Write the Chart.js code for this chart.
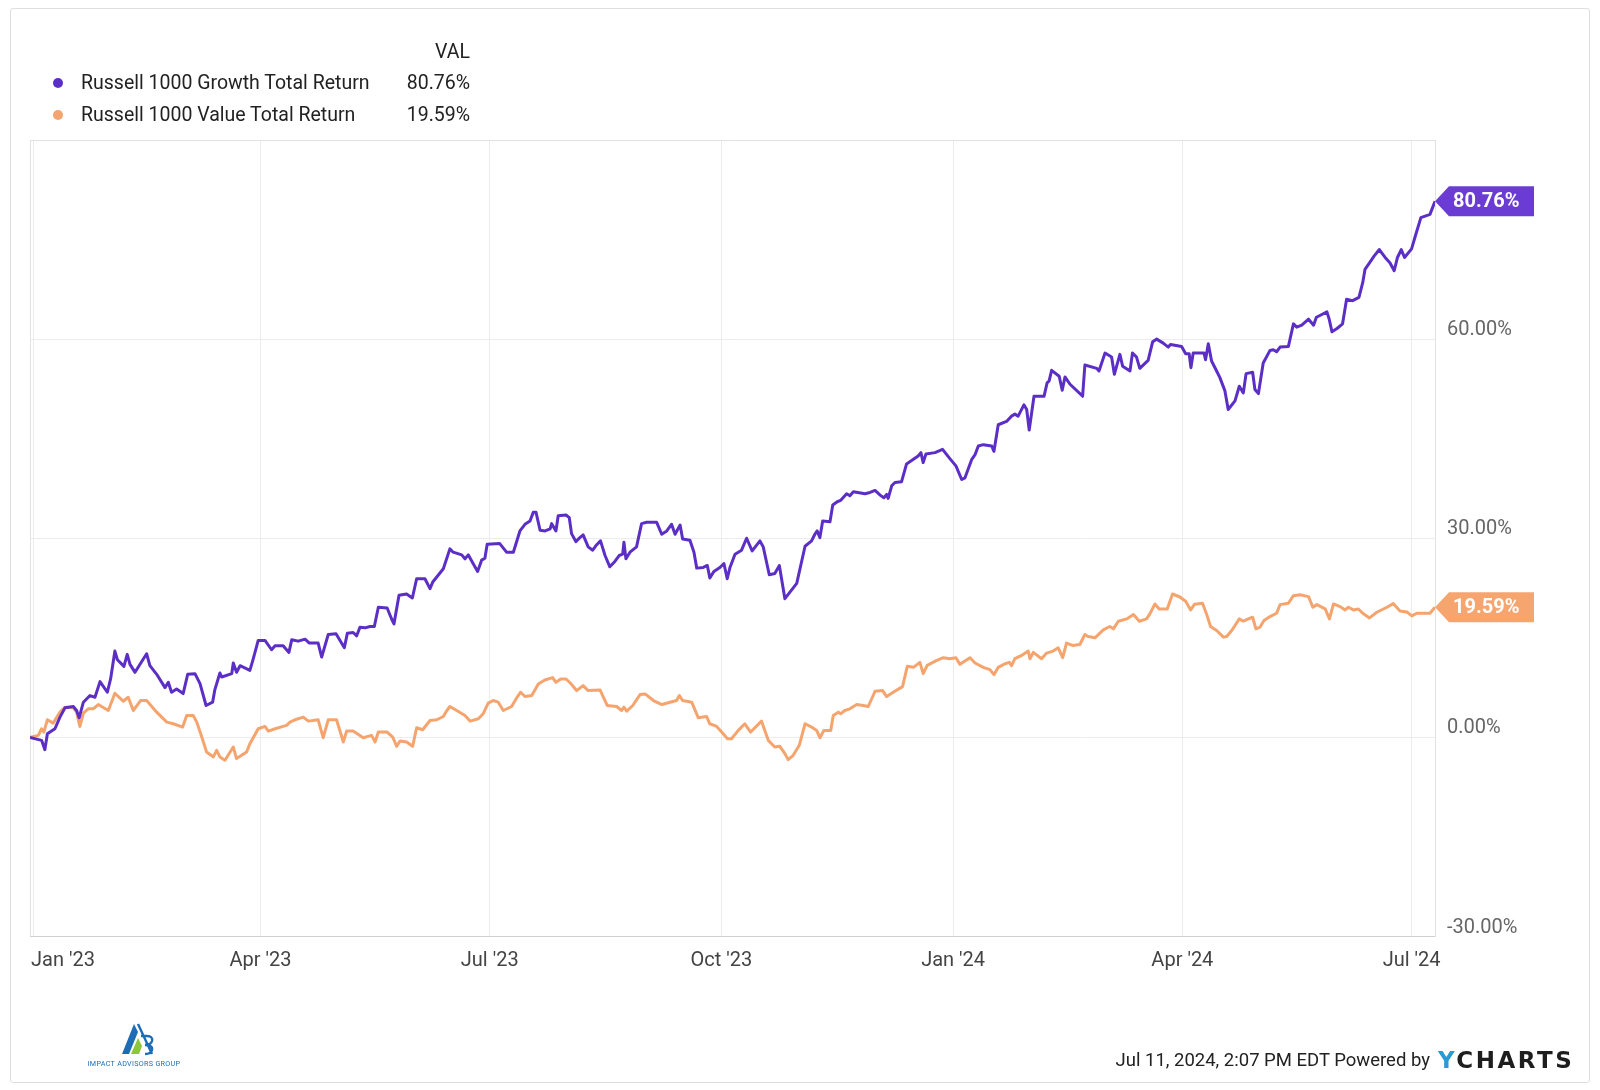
<!DOCTYPE html>
<html>
<head>
<meta charset="utf-8">
<title>Russell 1000 Growth vs Value Total Return</title>
<script src="https://cdn.jsdelivr.net/npm/chart.js@4.4.1/dist/chart.umd.min.js"></script>
<style>
  html, body { margin: 0; padding: 0; background: #fff; }
  body { width: 1600px; height: 1090px; position: relative; overflow: hidden;
         font-family: Roboto, "Noto Sans", sans-serif; color: #222; }
  #frame { position: absolute; left: 10px; top: 8px; width: 1580px; height: 1075px;
           border: 1px solid #dedede; border-radius: 3px; box-sizing: border-box; }
  #chart { position: absolute; left: 0; top: 0; }
  .txt { position: absolute; font-size: 19.5px; line-height: 24px; white-space: nowrap; color: #222; }
  .dot { position: absolute; width: 10px; height: 10px; border-radius: 50%; }
  .num { text-align: right; width: 120px; }
  #stamp { position: absolute; right: 170px; top: 1048px; font-size: 18.5px; line-height: 24px;
           white-space: nowrap; color: #222; }
  #ych { position: absolute; left: 1438px; top: 1047px; font-family: "DejaVu Sans", sans-serif;
         font-weight: bold; font-size: 23px; letter-spacing: 2.5px; line-height: 26px; color: #1e1e1e; }
  #ych span { color: #2a9ad6; }
  #logo { position: absolute; left: 84px; top: 1012px; }
</style>
</head>
<body>
<div id="frame"></div>
<canvas id="chart" width="1600" height="1090"></canvas>

<!-- legend -->
<div class="txt num" style="left:350px; top:40px;">VAL</div>
<div class="dot" style="left:53px; top:78px; background:#5b2fc6;"></div>
<div class="txt" style="left:81px; top:71px;">Russell 1000 Growth Total Return</div>
<div class="txt num" style="left:350px; top:71px;" id="growthVal"></div>
<div class="dot" style="left:53px; top:110px; background:#f5a46e;"></div>
<div class="txt" style="left:81px; top:103px;">Russell 1000 Value Total Return</div>
<div class="txt num" style="left:350px; top:103px;" id="valueVal"></div>

<!-- footer -->
<div id="stamp">Jul 11, 2024, 2:07 PM EDT Powered by</div>
<div id="ych"><span>Y</span>CHARTS</div>
<svg id="logo" width="104" height="60" viewBox="0 0 104 60">
  <polygon points="38,42 50,12 54,20 45,42" fill="#1c6db5"/>
  <polygon points="47,42 54,26 58,34 55,42" fill="#8cc63f"/>
  <path d="M54,12 L68,42 M57,24 L63,24 Q69,24 68,29 Q67,33 61,33 M61,33 Q69,33 68,38 Q67,42 61,42" stroke="#1c6db5" stroke-width="2.4" fill="none"/>
  <text x="50" y="54" font-size="7.2" font-family="Roboto, sans-serif" fill="#1c6db5" text-anchor="middle" letter-spacing="0.3">IMPACT ADVISORS GROUP</text>
</svg>

<script>
// x values are days since Jan 1, 2023; y values are total return in %
const growthDays = [-1.5, 3.1, 4.4, 5.4, 8.4, 10.4, 12.4, 15.7, 17.0, 18.0, 19.7, 22.3, 24.3, 26.3, 29.2, 30.5,
  32.2, 33.2, 35.8, 37.1, 38.2, 40.2, 44.8, 46.1, 48.8, 52.1, 53.4, 54.7, 56.7, 59.3, 61.1, 64.0, 66.0, 68.4,
  71.0, 71.9, 73.9, 74.6, 78.6, 79.2, 80.5, 81.9, 85.8, 87.1, 89.1, 91.8, 94.4, 95.8, 99.0, 101.3, 102.4,
  105.0, 107.7, 109.4, 112.9, 114.3, 116.9, 120.0, 123.3, 124.5, 126.8, 128.2, 129.5, 131.5, 133.5, 135.2,
  136.8, 140.3, 142.1, 143.0, 145.0, 148.0, 150.3, 152.0, 155.3, 157.3, 158.4, 162.6, 165.2, 166.5, 169.9,
  171.2, 172.5, 173.8, 176.2, 177.8, 179.1, 180.0, 185.0, 187.7, 190.4, 193.0, 195.0, 197.0, 198.3, 199.4,
  201.0, 203.0, 205.0, 205.6, 207.3, 208.2, 211.3, 212.6, 213.5, 215.2, 216.8, 218.1, 220.1, 221.9, 223.2,
  225.0, 226.8, 228.7, 230.7, 232.4, 233.8, 234.3, 235.1, 236.7, 239.3, 241.3, 243.3, 247.3, 249.3, 251.3,
  253.2, 254.6, 256.6, 257.6, 260.5, 262.1, 263.2, 265.8, 267.4, 268.4, 270.0, 272.4, 274.0, 275.3, 276.4,
  278.4, 281.0, 283.0, 285.2, 288.3, 289.6, 292.0, 294.2, 296.0, 298.2, 302.9, 306.2, 308.8, 310.1, 311.0,
  312.1, 313.2, 316.1, 317.2, 319.0, 320.3, 322.7, 324.0, 325.4, 330.0, 332.0, 334.0, 336.0, 337.5, 338.6,
  339.2, 340.6, 341.9, 344.5, 346.5, 348.5, 351.1, 352.2, 353.1, 354.2, 357.8, 360.8, 363.7, 366.1, 368.4,
  369.7, 372.4, 373.7, 375.0, 377.0, 380.3, 381.2, 382.9, 386.2, 388.2, 389.5, 390.8, 393.1, 394.2, 395.2,
  397.1, 401.1, 402.3, 403.1, 404.1, 407.1, 408.3, 409.4, 411.4, 416.4, 417.3, 422.0, 422.9, 425.3, 427.9,
  429.0, 431.2, 432.3, 435.2, 436.2, 437.8, 439.1, 442.4, 444.2, 445.8, 448.4, 450.4, 451.3, 455.7, 457.3,
  458.7, 459.4, 460.3, 464.6, 465.2, 466.3, 467.6, 469.6, 470.9, 472.9, 474.2, 476.9, 478.6, 480.2, 481.3,
  483.9, 484.8, 486.2, 488.1, 490.8, 492.1, 493.4, 494.8, 498.1, 500.1, 501.4, 503.4, 506.1, 508.1, 509.2,
  510.8, 513.4, 514.3, 515.4, 517.4, 519.6, 521.2, 523.6, 526.1, 527.6, 528.5, 530.5, 532.1, 534.2, 536.5,
  538.4, 540.1, 541.4, 542.9, 544.2, 547.0, 548.7, 550.7, 554.3, 556.3];
const growthReturns = [0, -0.45, -1.85, 0.55, 1.3, 3.05, 4.45, 4.65, 4.05, 2.95, 5.3, 6.3, 6.05, 8.4, 6.8, 8.8,
  13.0, 11.7, 10.7, 12.5, 11.0, 9.8, 12.6, 10.8, 9.5, 7.5, 8.3, 6.8, 7.3, 6.6, 9.5, 9.6, 8.1, 4.8,
  5.3, 7.2, 9.7, 9.1, 9.6, 11.2, 9.8, 10.8, 10.1, 11.8, 14.6, 14.6, 13.2, 13.8, 13.8, 12.8, 14.7,
  14.5, 14.8, 14.2, 14.2, 12.1, 15.5, 15.6, 13.5, 15.7, 15.8, 15.3, 16.6, 16.5, 16.7, 16.7,
  19.6, 19.5, 17.8, 17.1, 21.4, 21.6, 21.0, 23.9, 23.9, 22.4, 23.4, 25.4, 28.4, 27.9, 27.5,
  26.9, 27.5, 26.6, 25.0, 26.7, 27.0, 29.1, 29.2, 27.9, 27.9, 31.1, 32.1, 32.6, 33.9, 33.9,
  31.2, 31.1, 31.4, 32.2, 31.1, 33.4, 33.5, 33.1, 30.7, 29.5, 30.1, 30.5, 28.7, 28.2, 28.9,
  29.6, 27.4, 25.7, 26.5, 27.4, 27.6, 29.4, 26.9, 27.9, 28.7, 32.2, 32.4, 32.4, 30.6, 31.1,
  32.1, 30.6, 32.0, 29.9, 29.7, 27.9, 25.5, 25.6, 25.9, 24.0, 25.0, 25.6, 26.2, 23.9, 25.6,
  27.6, 28.2, 30.0, 28.1, 29.6, 28.7, 24.5, 24.7, 25.9, 20.9, 23.2, 28.8, 29.6, 30.6, 31.1,
  30.1, 32.6, 32.5, 35.0, 35.5, 35.7, 36.7, 36.4, 37.0, 36.7, 36.9, 37.2, 36.5, 36.1, 36.6,
  36.0, 37.9, 38.4, 38.5, 41.2, 41.7, 42.4, 42.9, 41.4, 42.7, 42.9, 43.4, 42.0, 40.9, 38.85,
  39.1, 41.9, 42.6, 43.9, 44.1, 43.9, 43.1, 47.1, 47.6, 48.4, 48.7, 48.4, 50.1, 49.4, 46.3,
  51.4, 51.4, 53.4, 53.7, 55.3, 54.4, 52.3, 54.3, 53.2, 51.4, 56.1, 55.6, 55.2, 57.9, 57.3,
  54.7, 57.7, 55.9, 55.2, 57.9, 57.3, 55.6, 56.8, 59.6, 60.0, 59.4, 58.8, 59.2, 58.9, 57.8,
  57.8, 55.7, 57.9, 57.9, 56.9, 59.3, 56.7, 55.2, 54.2, 52.2, 49.4, 50.7, 52.9, 51.9, 54.8,
  55.0, 52.4, 51.8, 56.4, 58.3, 58.4, 58.1, 58.8, 58.9, 62.3, 61.8, 62.1, 63.0, 62.1, 63.3,
  63.6, 64.1, 63.0, 61.1, 61.6, 62.3, 66.0, 65.8, 66.3, 68.5, 70.5, 71.6, 72.5, 73.5, 72.3,
  71.5, 70.3, 72.3, 73.5, 72.3, 73.6, 75.8, 78.3, 78.8, 80.76];

const valueDays = [-1.5, 1.8, 3.1, 4.0, 5.4, 7.7, 10.4, 12.4, 15.7, 17.0, 18.3, 19.7, 21.6, 23.6, 25.6, 29.6,
  32.2, 35.5, 37.5, 39.5, 42.4, 44.8, 48.8, 52.8, 55.4, 59.1, 60.7, 63.3, 64.7, 66.7, 68.6, 71.3, 72.6,
  73.9, 75.9, 79.2, 80.5, 84.5, 85.8, 89.1, 91.8, 93.1, 95.8, 99.0, 100.4, 101.7, 103.7, 107.0, 109.0,
  112.9, 114.9, 116.9, 120.2, 122.9, 124.2, 126.8, 130.8, 134.1, 135.5, 136.8, 140.3, 142.5, 144.1, 145.4,
  148.0, 150.4, 152.0, 154.4, 157.3, 160.0, 162.6, 164.0, 165.2, 167.9, 171.2, 173.2, 176.5, 178.4, 180.4,
  182.4, 184.4, 186.4, 189.7, 191.7, 193.3, 195.0, 197.7, 200.3, 202.9, 206.0, 207.3, 209.2, 211.3, 213.1,
  215.5, 218.1, 220.1, 224.8, 227.7, 231.4, 233.4, 234.3, 235.4, 237.8, 240.7, 242.7, 246.0, 249.4, 252.6,
  255.2, 256.3, 257.6, 261.2, 262.5, 263.8, 267.1, 268.4, 271.1, 273.1, 275.4, 277.0, 279.7, 282.3, 284.6,
  288.9, 291.6, 294.2, 296.2, 298.2, 299.5, 301.5, 303.9, 306.2, 308.8, 310.8, 312.1, 313.7, 316.4, 317.4,
  319.4, 320.3, 322.0, 324.0, 326.7, 329.3, 331.3, 334.0, 337.0, 338.6, 341.2, 344.9, 346.8, 349.2, 351.8,
  353.1, 354.7, 358.5, 361.1, 363.7, 366.1, 367.7, 371.7, 373.7, 377.0, 379.6, 381.2, 382.9, 385.6, 387.3,
  388.2, 389.5, 392.2, 394.8, 395.5, 396.8, 400.1, 402.1, 404.7, 406.7, 408.5, 410.0, 412.4, 415.3, 417.3,
  418.6, 421.3, 424.6, 427.2, 428.6, 430.6, 433.9, 436.6, 438.9, 441.8, 443.1, 445.1, 446.8, 450.0, 452.1,
  455.0, 457.3, 459.3, 460.8, 464.0, 465.6, 467.2, 469.6, 472.3, 473.6, 475.6, 478.6, 480.2, 482.2, 483.9,
  485.2, 486.8, 488.4, 490.8, 493.4, 494.8, 498.1, 500.1, 502.7, 506.1, 507.8, 509.4, 512.7, 514.4, 516.0,
  518.6, 520.6, 521.9, 523.9, 525.9, 527.6, 530.3, 533.2, 537.2, 539.8, 542.4, 545.1, 547.1, 549.1, 554.3,
  556.3];
const valueReturns = [0, 0.3, 1.3, 0.8, 2.65, 2.15, 3.8, 4.55, 4.45, 3.8, 1.65, 3.65, 4.3, 4.3, 4.95, 4.05,
  6.65, 5.45, 6.05, 4.05, 5.55, 5.55, 3.8, 2.3, 2.05, 1.55, 3.3, 3.3, 2.3, 0.05, -2.2, -2.95, -1.95,
  -2.95, -3.45, -1.45, -3.2, -2.2, -0.95, 1.3, 1.65, 0.95, 1.3, 1.65, 1.8, 2.3, 2.65, 3.05, 2.45,
  2.65, -0.05, 2.65, 2.65, -0.7, 0.95, 0.95, -0.05, 0.3, -0.7, 0.8, 0.8, 0.05, -1.35, -0.55,
  -0.7, -1.35, 1.45, 1.15, 2.55, 2.65, 3.15, 4.05, 4.65, 4.05, 3.3, 2.45, 2.8, 3.55, 5.15,
  5.55, 5.3, 4.05, 4.65, 5.95, 6.8, 6.15, 6.3, 8.05, 8.65, 9.0, 8.3, 8.8, 8.8, 8.15,
  7.05, 7.8, 7.05, 7.15, 4.8, 4.65, 4.05, 4.55, 3.95, 4.8, 6.45, 6.55, 5.55, 4.95, 5.3,
  5.55, 6.3, 5.55, 5.3, 4.15, 2.95, 3.15, 2.05, 1.65, 0.8, -0.2, -0.2, 1.05, 2.05, 0.8,
  2.45, -0.45, -1.45, -1.35, -2.45, -3.35, -2.7, -1.2, 2.05, 1.55, 1.05, -0.05, 1.05, 1.05, 3.3,
  3.8, 3.55, 4.05, 4.3, 4.95, 4.8, 4.65, 6.95, 7.05, 6.15, 6.8, 7.65, 10.7, 10.55, 11.3,
  9.6, 10.85, 11.6, 12.0, 11.85, 12.0, 11.0, 12.0, 11.2, 10.55, 10.2, 9.45, 10.55, 11.1, 11.3,
  10.8, 11.85, 12.35, 13.0, 11.85, 12.8, 11.85, 12.7, 13.0, 13.5, 12.0, 14.2, 13.85, 14.0, 15.5,
  15.2, 15.0, 16.2, 16.7, 16.35, 17.5, 17.85, 18.5, 17.5, 17.85, 18.6, 20.1, 19.35, 19.35, 21.6,
  21.15, 20.5, 19.2, 20.05, 20.2, 18.6, 16.7, 16.1, 15.1, 15.2, 16.1, 17.85, 17.5, 17.85, 18.1,
  16.35, 16.6, 17.6, 18.2, 18.7, 20.0, 20.2, 21.35, 21.5, 21.2, 19.6, 20.0, 19.35, 17.85, 20.1,
  19.7, 19.2, 19.6, 19.2, 19.35, 18.7, 18.0, 18.85, 19.6, 20.15, 19.05, 18.9, 18.3, 18.7, 18.7,
  19.59];

// axis ticks
const xTickDays = [0, 90, 181, 273, 365, 456, 547];
const xTickLabels = ["Jan '23", "Apr '23", "Jul '23", "Oct '23", "Jan '24", "Apr '24", "Jul '24"];
const yTicks = [-30, 0, 30, 60, 90];

const seriesNames = ['Russell 1000 Growth Total Return', 'Russell 1000 Value Total Return'];
const growthColor = '#5b2fc6';
const valueColor = '#f5a46e';
const tagColors = ['#6a3cd3', '#f6a56f'];

function toPoints(days, vals) {
  return days.map((d, i) => ({ x: d, y: vals[i] }));
}

document.getElementById('growthVal').textContent = growthReturns[growthReturns.length - 1].toFixed(2) + '%';
document.getElementById('valueVal').textContent = valueReturns[valueReturns.length - 1].toFixed(2) + '%';

// box around plot + month labels + end value tags
const decorPlugin = {
  id: 'decor',
  beforeDatasetsDraw(chart) {
    const { ctx, chartArea: a } = chart;
    ctx.save();
    ctx.strokeStyle = '#e2e2e2';
    ctx.lineWidth = 1;
    ctx.beginPath();
    ctx.moveTo(a.left + 0.5, a.top);
    ctx.lineTo(a.left + 0.5, a.bottom);
    ctx.moveTo(a.left, a.top + 0.5);
    ctx.lineTo(a.right, a.top + 0.5);
    ctx.stroke();
    ctx.restore();
  },
  afterDraw(chart) {
    const { ctx, chartArea: a } = chart;
    const xs = chart.scales.x;
    ctx.save();
    ctx.font = '20px Roboto, "Noto Sans", sans-serif';
    ctx.fillStyle = '#444';
    ctx.textBaseline = 'middle';
    xTickDays.forEach((d, i) => {
      const px = xs.getPixelForValue(d);
      if (i === 0) {
        ctx.textAlign = 'left';
        ctx.fillText(xTickLabels[i], a.left + 1, a.bottom + 24);
      } else {
        ctx.textAlign = 'center';
        ctx.fillText(xTickLabels[i], px, a.bottom + 24);
      }
    });
    // end tags
    chart.data.datasets.forEach((ds, i) => {
      const meta = chart.getDatasetMeta(i);
      const last = meta.data[meta.data.length - 1];
      const x = last.x, y = last.y;
      ctx.fillStyle = tagColors[i];
      ctx.beginPath();
      ctx.moveTo(x, y);
      ctx.lineTo(x + 14, y - 15);
      ctx.lineTo(x + 99, y - 15);
      ctx.lineTo(x + 99, y + 15);
      ctx.lineTo(x + 14, y + 15);
      ctx.closePath();
      ctx.fill();
      ctx.fillStyle = '#fff';
      ctx.font = 'bold 20px Roboto, "Noto Sans", sans-serif';
      ctx.textAlign = 'left';
      ctx.fillText(ds.data[ds.data.length - 1].y.toFixed(2) + '%', x + 18, y + 1);
    });
    ctx.restore();
  }
};

new Chart(document.getElementById('chart'), {
  type: 'line',
  data: {
    datasets: [
      { label: seriesNames[0], data: toPoints(growthDays, growthReturns), borderColor: growthColor,
        borderWidth: 3, pointRadius: 0, tension: 0, borderJoinStyle: 'round' },
      { label: seriesNames[1], data: toPoints(valueDays, valueReturns), borderColor: valueColor,
        borderWidth: 3, pointRadius: 0, tension: 0, borderJoinStyle: 'round' }
    ]
  },
  options: {
    responsive: false,
    animation: false,
    layout: { padding: { left: 30, right: 45, top: 140, bottom: 113.5 } },
    plugins: { legend: { display: false }, tooltip: { enabled: false } },
    scales: {
      x: {
        type: 'linear',
        min: -1.5,
        max: 556.3,
        afterBuildTicks: axis => { axis.ticks = xTickDays.map(v => ({ value: v })); },
        afterFit: axis => { axis.height = 40; },
        ticks: { display: false },
        grid: { color: '#ececec', lineWidth: 1, drawTicks: false },
        border: { color: '#d0d0d0' }
      },
      y: {
        position: 'right',
        min: -30,
        max: 90,
        afterBuildTicks: axis => { axis.ticks = yTicks.map(v => ({ value: v })); },
        afterFit: axis => { axis.width = 120; },
        ticks: {
          padding: 12,
          labelOffset: -9,
          color: '#666',
          font: { family: 'Roboto, "Noto Sans", sans-serif', size: 20 },
          callback: v => (v === 90 ? '' : v.toFixed(2) + '%')
        },
        grid: { color: '#ececec', lineWidth: 1, drawTicks: false },
        border: { color: '#e2e2e2' }
      }
    }
  },
  plugins: [decorPlugin]
});
</script>
</body>
</html>
